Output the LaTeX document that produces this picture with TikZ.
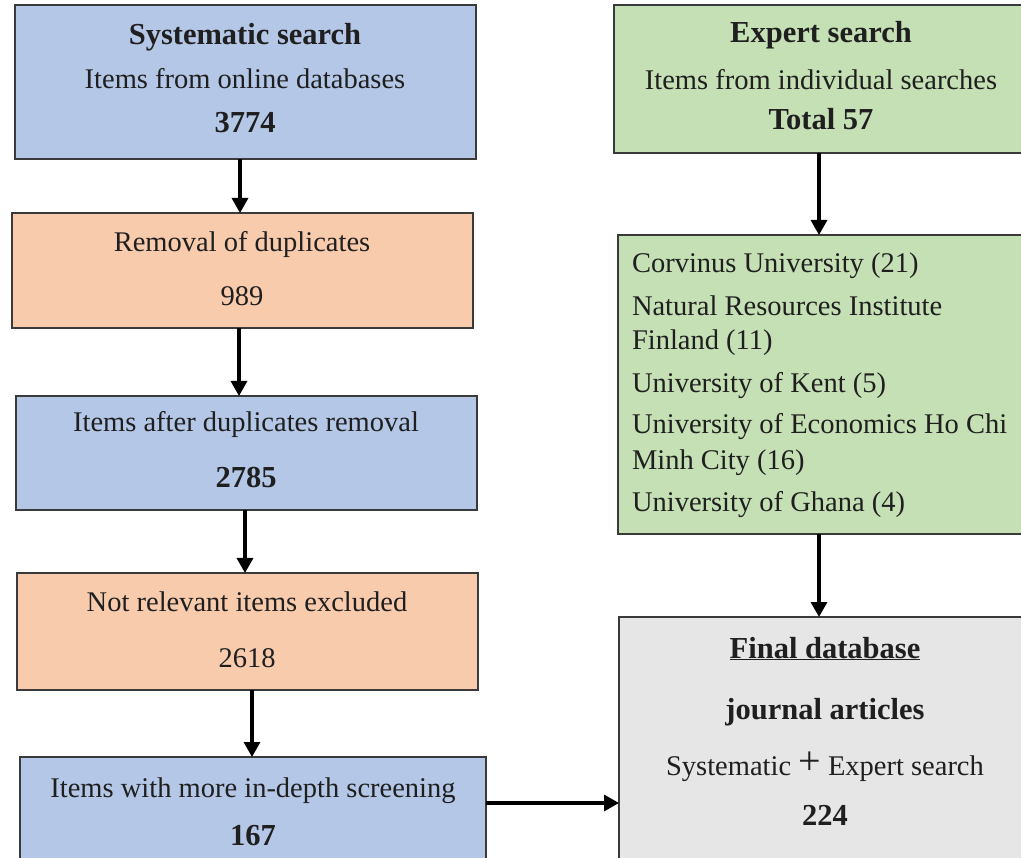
\documentclass[tikz,border=0pt]{standalone}
\usepackage{fontspec}
\setmainfont{Liberation Serif}
\usetikzlibrary{arrows.meta,calc}
\definecolor{bluebox}{HTML}{B4C7E7}
\definecolor{orangebox}{HTML}{F8CBAD}
\definecolor{greenbox}{HTML}{C5E0B4}
\definecolor{greybox}{HTML}{E7E6E6}
\definecolor{boxline}{HTML}{3A3A3A}
\begin{document}
\begin{tikzpicture}[x=1pt,y=-1pt,
  box/.style={draw=boxline, line width=1.6pt, inner sep=0pt, outer sep=0pt, anchor=north west},
  txt/.style={inner sep=0pt, outer sep=0pt, anchor=base, font=\fontsize{28.5}{30}\selectfont, text=black!88},
  btxt/.style={txt, font=\fontsize{30.5}{32}\selectfont\bfseries},
  ltxt/.style={txt, anchor=base west},
  arr/.style={line width=3.3pt, -{Triangle[length=15pt,width=16pt]}}]
\useasboundingbox (0,0) rectangle (1021,858);
\clip (0,0) rectangle (1021,858);
\fill[white] (0,0) rectangle (1021,858);
% left column boxes
\node[box, fill=bluebox, minimum width=461pt, minimum height=154pt] (s1) at (15,5) {};
\node[box, fill=orangebox, minimum width=461pt, minimum height=115pt] (s2) at (12,213) {};
\node[box, fill=bluebox, minimum width=461pt, minimum height=114pt] (s3) at (16,396) {};
\node[box, fill=orangebox, minimum width=461pt, minimum height=117pt] (s4) at (17,573) {};
\node[box, fill=bluebox, minimum width=466pt, minimum height=120pt] (s5) at (20,757) {};
% right column boxes
\node[box, fill=greenbox, minimum width=414pt, minimum height=148pt] (e1) at (614,5) {};
\node[box, fill=greenbox, minimum width=414pt, minimum height=299pt] (e2) at (618,235) {};
\node[box, fill=greybox, minimum width=414pt, minimum height=260pt] (f1) at (619,617) {};
% texts
\node[btxt] (s1a) at (245,45) {Systematic search};
\node[txt] (s1b) at (245,89) {Items from online databases};
\node[btxt] (s1c) at (245,133) {3774};
\node[txt] (s2a) at (242,252) {Removal of duplicates};
\node[txt] (s2b) at (242,306) {989};
\node[txt] (s3a) at (246,432) {Items after duplicates removal};
\node[btxt] (s3b) at (246,488) {2785};
\node[txt] (s4a) at (247,612) {Not relevant items excluded};
\node[txt] (s4b) at (247,667) {2618};
\node[txt] (s5a) at (253,797) {Items with more in-depth screening};
\node[btxt] (s5b) at (253,845) {167};
\node[btxt] (e1a) at (821,43) {Expert search};
\node[txt] (e1b) at (821,90) {Items from individual searches};
\node[btxt] (e1c) at (821,130) {Total 57};
\node[ltxt] (l1) at (632,273) {Corvinus University (21)};
\node[ltxt] (l2) at (632,316) {Natural Resources Institute};
\node[ltxt] (l3) at (632,350) {Finland (11)};
\node[ltxt] (l4) at (632,393) {University of Kent (5)};
\node[ltxt] (l5) at (632,434) {University of Economics Ho Chi};
\node[ltxt] (l6) at (632,470) {Minh City (16)};
\node[ltxt] (l7) at (632,512) {University of Ghana (4)};
\node[btxt] (f1a) at (825,658) {\underline{Final database}};
\node[btxt] (f1b) at (825,719) {journal articles};
\node[txt] (f1c) at (825,775) {Systematic {\fontsize{40}{40}\selectfont\raisebox{1pt}{+}} Expert search};
\node[btxt] (f1d) at (825,825) {224};
% arrows
\draw[arr] (s1.south -| 240,0) -- (s2.north -| 240,0);
\draw[arr] (s2.south -| 239,0) -- (s3.north -| 239,0);
\draw[arr] (s3.south -| 245,0) -- (s4.north -| 245,0);
\draw[arr] (s4.south -| 252,0) -- (s5.north -| 252,0);
\draw[arr] (e1.south -| 819,0) -- (e2.north -| 819,0);
\draw[arr] (e2.south -| 819,0) -- (f1.north -| 819,0);
\draw[arr] (s5.east |- 0,803) -- (f1.west |- 0,803);
\end{tikzpicture}
\end{document}
